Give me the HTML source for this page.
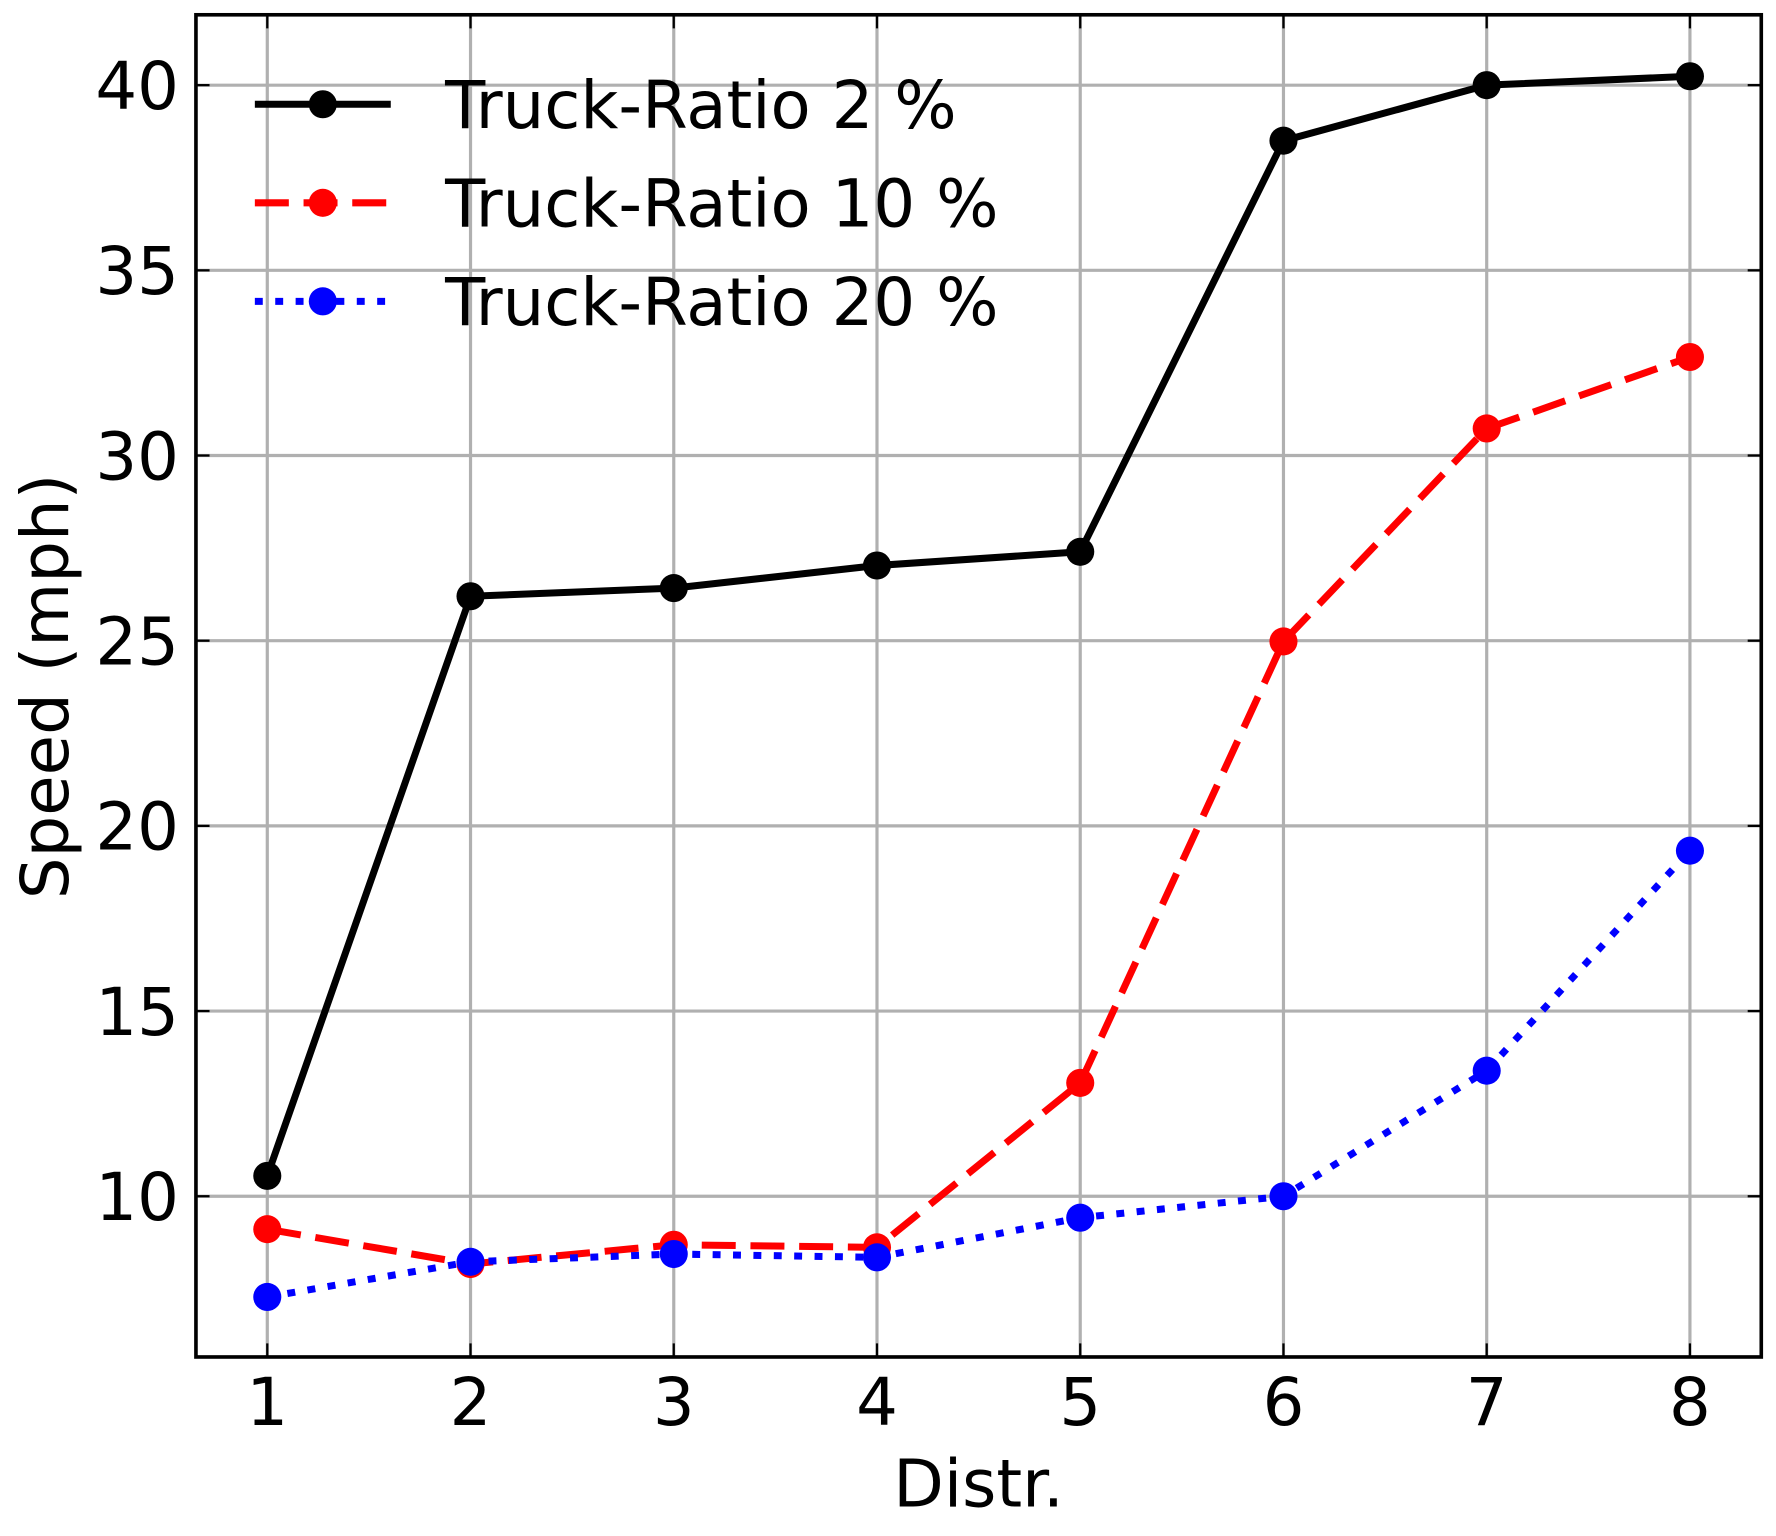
<!DOCTYPE html>
<html><head><meta charset="utf-8"><style>
html,body{margin:0;padding:0;background:#fff;}
svg{display:block;}
text{font-family:"DejaVu Sans","Liberation Sans",sans-serif;fill:#000;}
</style></head><body>
<svg id="chart" width="1776" height="1536" viewBox="0 0 1568 1356" xmlns="http://www.w3.org/2000/svg">
<g id="grid"></g>
<g id="series"></g>
<g id="axes"></g>
<g id="legend"></g>
</svg>
<script>
const categories = [1,2,3,4,5,6,7,8];
const seriesNames = ["Truck-Ratio 2 %","Truck-Ratio 10 %","Truck-Ratio 20 %"];
const ratio2 = [10.55,26.2,26.42,27.03,27.4,38.5,40.0,40.24];
const ratio10 = [9.11,8.17,8.69,8.62,13.06,24.98,30.73,32.66];
const ratio20 = [7.28,8.23,8.44,8.35,9.42,10.0,13.39,19.33];
const yTicks = [10,15,20,25,30,35,40];
const xTicks = [1,2,3,4,5,6,7,8];

const L=173,R=1555,T=13,B=1198;
const xMin=0.649,xMax=8.351,yMin=5.66,yMax=41.9;
const xs=v=>L+(v-xMin)/(xMax-xMin)*(R-L);
const ys=v=>B-(v-yMin)/(yMax-yMin)*(B-T);
const NS="http://www.w3.org/2000/svg";
const FS=58;
function mk(tag,attrs,parent){const e=document.createElementNS(NS,tag);for(const k in attrs)e.setAttribute(k,attrs[k]);parent.appendChild(e);return e;}
const grid=document.getElementById('grid'),axes=document.getElementById('axes'),ser=document.getElementById('series'),leg=document.getElementById('legend');

xTicks.forEach(v=>{
  const g=mk('line',{x1:xs(v),x2:xs(v),y1:T,y2:B,stroke:'#b0b0b0','stroke-width':2.8},grid);
  
  
  const t1=mk('line',{x1:xs(v),x2:xs(v),y1:B,y2:B-12,stroke:'#000','stroke-width':2},axes);
  
  
  const t2=mk('line',{x1:xs(v),x2:xs(v),y1:T,y2:T+12,stroke:'#000','stroke-width':2},axes);
  
  
  const lb=mk('text',{x:xs(v),y:1258,'font-size':FS,'text-anchor':'middle'},axes);
  lb.textContent=v;
  
  
});
yTicks.forEach(v=>{
  const g=mk('line',{x1:L,x2:R,y1:ys(v),y2:ys(v),stroke:'#b0b0b0','stroke-width':2.8},grid);
  
  
  const t1=mk('line',{x1:L,x2:L+12,y1:ys(v),y2:ys(v),stroke:'#000','stroke-width':2},axes);
  
  
  const t2=mk('line',{x1:R,x2:R-12,y1:ys(v),y2:ys(v),stroke:'#000','stroke-width':2},axes);
  
  
  const lb=mk('text',{x:158,y:ys(v)+21,'font-size':FS,'text-anchor':'end'},axes);
  lb.textContent=v;
  
  
});
const frame=mk('rect',{x:L,y:T,width:R-L,height:B-T,fill:'none',stroke:'#000','stroke-width':3.2},axes);


const xl=mk('text',{x:864,y:1330,'font-size':FS,'text-anchor':'middle'},axes);
xl.textContent='Distr.';


const yl=mk('text',{x:0,y:0,'font-size':FS,'text-anchor':'middle',transform:'translate(60,606) rotate(-90)'},axes);
yl.textContent='Speed (mph)';



const styles=[
 {data:ratio2,color:'#000',dash:'',name:'series-ratio-2'},
 {data:ratio10,color:'#ff0000',dash:'30 13',name:'series-ratio-10'},
 {data:ratio20,color:'#0000ff',dash:'7 11',name:'series-ratio-20'}
];
styles.forEach((s,i)=>{
  const pts=s.data.map((v,j)=>xs(categories[j])+','+ys(v)).join(' ');
  const pl=mk('polyline',{points:pts,fill:'none',stroke:s.color,'stroke-width':6.2,'stroke-dasharray':s.dash},ser);
  
  
  s.data.forEach((v,j)=>{
    const c=mk('circle',{cx:xs(categories[j]),cy:ys(v),r:12.4,fill:s.color},ser);
    
    
  });
  const ly=92+i*87;
  const ll=mk('line',{x1:225,x2:345,y1:ly,y2:ly,stroke:s.color,'stroke-width':6.2,'stroke-dasharray':s.dash},leg);
  
  
  const lc=mk('circle',{cx:285,cy:ly,r:12.4,fill:s.color},leg);
  
  
  const lt=mk('text',{x:393,y:ly+21,'font-size':FS},leg);
  lt.textContent=seriesNames[i];
  
  
});
</script>
</body></html>
